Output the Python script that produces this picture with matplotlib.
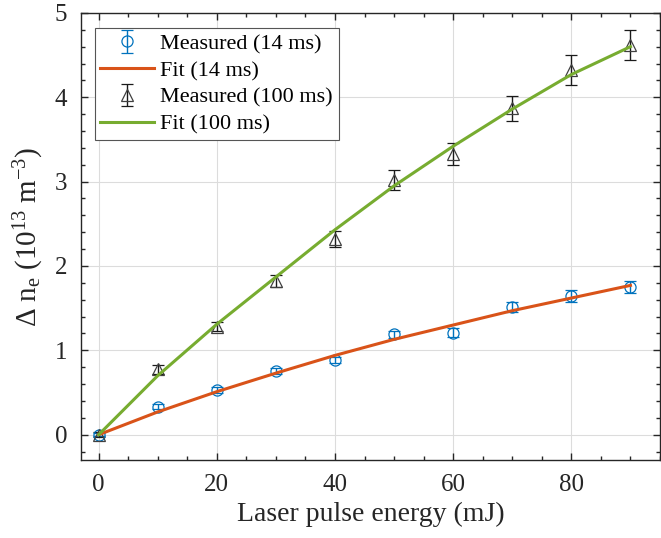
import matplotlib
matplotlib.use("Agg")
import matplotlib.pyplot as plt
from matplotlib.ticker import MultipleLocator

# energies (mJ)
energy = [0, 10, 20, 30, 40, 50, 60, 70, 80, 90]

# 14 ms delay
meas_14 = [0.0, 0.33, 0.53, 0.755, 0.88, 1.19, 1.21, 1.515, 1.645, 1.755]
err_14 = [0.02, 0.03, 0.03, 0.03, 0.035, 0.045, 0.05, 0.063, 0.067, 0.07]
fit_14 = [0.0, 0.27, 0.51, 0.73, 0.94, 1.13, 1.30, 1.47, 1.62, 1.77]

# 100 ms delay
meas_100 = [0.0, 0.775, 1.28, 1.82, 2.32, 3.02, 3.33, 3.87, 4.32, 4.62]
err_100 = [0.03, 0.05, 0.055, 0.07, 0.095, 0.12, 0.13, 0.15, 0.176, 0.18]
fit_100 = [0.0, 0.70, 1.31, 1.87, 2.43, 2.95, 3.42, 3.86, 4.27, 4.60]

plt.rcParams["font.family"] = ["Liberation Serif", "DejaVu Serif"]
plt.rcParams["mathtext.fontset"] = "custom"
plt.rcParams["mathtext.rm"] = "Liberation Serif"
plt.rcParams["mathtext.it"] = "Liberation Serif:italic"

blue = "#0072BD"
orange = "#D95319"
green = "#77AC30"
dark = "#262626"

fig = plt.figure(figsize=(6.61, 5.38), dpi=100)
ax = fig.add_axes([0.1225, 0.145, 0.876, 0.831])

h1 = ax.errorbar(energy, meas_14, yerr=err_14, fmt="o", mfc="none", mec=blue,
                 ecolor=blue, ms=8, mew=0.9, elinewidth=1.0, capsize=4,
                 capthick=1.0, zorder=3)
h2, = ax.plot(energy, fit_14, color=orange, lw=2.2, zorder=4)
h3 = ax.errorbar(energy, meas_100, yerr=err_100, fmt="^", mfc="none",
                 mec="#404040", ecolor="#1a1a1a", ms=8.5, mew=0.9,
                 elinewidth=1.0, capsize=4, capthick=1.0, zorder=3)
h4, = ax.plot(energy, fit_100, color=green, lw=2.2, zorder=4)

ax.set_xlim(-3, 95)
ax.set_ylim(-0.3, 5)
ax.xaxis.set_major_locator(MultipleLocator(20))
ax.xaxis.set_minor_locator(MultipleLocator(5))
ax.yaxis.set_major_locator(MultipleLocator(1))
ax.yaxis.set_minor_locator(MultipleLocator(0.2))

ax.tick_params(which="both", direction="in", top=True, right=True,
               colors=dark, labelsize=18, width=1.0)
ax.tick_params(which="major", length=5, pad=10)
ax.tick_params(which="minor", length=3)
for s in ax.spines.values():
    s.set_color(dark)
    s.set_linewidth(1.0)

ax.grid(True, which="major", color="#dcdcdc", lw=0.8)
ax.set_axisbelow(True)

ax.set_xlabel("Laser pulse energy (mJ)", fontsize=20, color=dark, labelpad=4)
ax.set_ylabel(r"$\Delta\ \mathrm{n_e\ (10^{13}\ m^{-3})}$", fontsize=21,
              color=dark, labelpad=6)

leg = ax.legend([h1, h2, h3, h4],
                ["Measured (14 ms)", "Fit (14 ms)", "Measured (100 ms)",
                 "Fit (100 ms)"],
                loc="upper left", bbox_to_anchor=(0.024, 0.966),
                borderaxespad=0, fontsize=16, fancybox=False,
                framealpha=1, edgecolor="#555555", handlelength=2.4,
                handletextpad=0.3, labelspacing=0.28, borderpad=0.25)
leg.get_frame().set_linewidth(0.8)

fig.savefig("out.png", dpi=100)
